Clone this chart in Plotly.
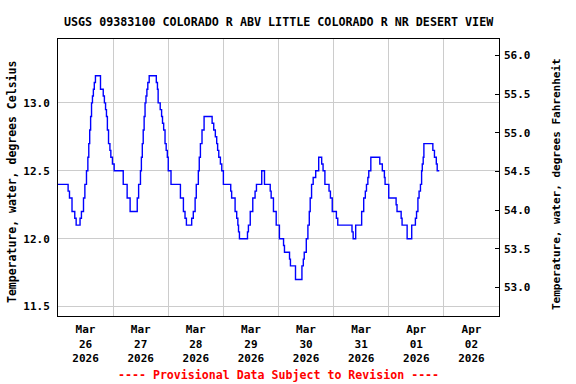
import pandas as pd
import plotly.graph_objects as go

# Change points of the stepped record: hours after 2026-03-26 00:00 and water temperature (deg C)
hours = [
    0.0, 4.4, 5.0, 6.1, 7.3, 7.9, 9.6, 10.2, 11.1, 11.7, 12.4, 13.0, 13.4, 13.8, 14.2, 14.6, 15.0,
    15.4, 15.8, 16.3, 18.5, 19.7, 20.2, 20.7, 21.1, 21.5, 22.0, 22.6, 23.0, 23.7, 24.45, 28.4,
    30.1, 31.4, 34.5, 35.1, 35.9, 36.3, 36.7, 37.1, 37.5, 37.9, 38.3, 38.7, 39.1, 39.7, 42.8,
    43.3, 43.6, 44.5, 45.1, 45.5, 46.0, 46.6, 47.1, 47.6, 48.0, 49.2, 53.3, 54.6, 55.3, 55.9,
    58.2, 58.9, 59.7, 60.2, 61.1, 61.5, 62.0, 62.7, 63.6, 67.1, 67.8, 68.5, 69.1, 69.5, 70.0,
    70.7, 71.3, 72.0, 75.2, 75.6, 77.1, 77.8, 78.3, 78.6, 79.0, 82.5, 82.9, 83.7, 84.8, 85.8,
    86.4, 88.7, 89.9, 92.4, 92.8, 93.8, 95.0, 96.4, 98.2, 98.6, 100.8, 101.2, 103.4, 106.2,
    106.8, 107.2, 108.1, 108.8, 109.4, 109.8, 110.4, 111.1, 112.2, 113.5, 114.8, 115.4, 116.2,
    118.0, 118.6, 119.4, 121.2, 121.8, 128.0, 128.5, 129.6, 132.2, 133.1, 133.8, 134.3, 134.9,
    135.3, 136.2, 140.1, 141.2, 142.1, 142.4, 144.0, 147.2, 147.6, 149.4, 149.8, 152.0, 154.0,
    155.6, 156.1, 156.7, 157.2, 157.8, 158.3, 158.6, 159.0, 159.3, 163.2, 163.9, 164.7, 165.1,
    166.0,
]
temp_c = [
    12.4, 12.35, 12.3, 12.2, 12.15, 12.1, 12.15, 12.2, 12.3, 12.4, 12.5, 12.6, 12.7, 12.8, 12.9, 13.0, 13.05,
    13.1, 13.15, 13.2, 13.1, 13.05, 13.0, 12.95, 12.9, 12.8, 12.7, 12.65, 12.6, 12.55, 12.5, 12.4,
    12.3, 12.2, 12.3, 12.4, 12.5, 12.6, 12.7, 12.8, 12.9, 13.0, 13.05, 13.1, 13.15, 13.2, 13.15,
    13.1, 13.0, 12.95, 12.9, 12.85, 12.8, 12.7, 12.65, 12.6, 12.5, 12.4, 12.3, 12.2, 12.15, 12.1,
    12.15, 12.2, 12.3, 12.4, 12.5, 12.6, 12.7, 12.8, 12.9, 12.85, 12.8, 12.75, 12.7, 12.65, 12.6,
    12.55, 12.5, 12.4, 12.35, 12.3, 12.2, 12.15, 12.1, 12.05, 12.0, 12.05, 12.1, 12.2, 12.3, 12.35,
    12.4, 12.5, 12.4, 12.35, 12.3, 12.2, 12.1, 12.0, 11.95, 11.9, 11.85, 11.8, 11.7, 11.8,
    11.85, 11.9, 12.0, 12.1, 12.2, 12.3, 12.4, 12.45, 12.5, 12.6, 12.55, 12.5, 12.4,
    12.35, 12.3, 12.2, 12.15, 12.1, 12.05, 12.0, 12.1, 12.2, 12.3, 12.35, 12.4, 12.45,
    12.5, 12.6, 12.55, 12.5, 12.45, 12.4, 12.3, 12.25, 12.2, 12.15, 12.1, 12.0, 12.1,
    12.15, 12.2, 12.3, 12.35, 12.4, 12.5, 12.55, 12.6, 12.7, 12.65, 12.6, 12.55, 12.5,
    12.5,
]

day_labels = ["Mar<br>26<br>2026", "Mar<br>27<br>2026", "Mar<br>28<br>2026", "Mar<br>29<br>2026",
              "Mar<br>30<br>2026", "Mar<br>31<br>2026", "Apr<br>01<br>2026", "Apr<br>02<br>2026"]
left_ticks = [11.5, 12.0, 12.5, 13.0]
right_ticks = [53.0, 53.5, 54.0, 54.5, 55.0, 55.5, 56.0]

start = pd.Timestamp("2026-03-26 00:00")
times = [start + pd.Timedelta(hours=h) for h in hours]
temp_f = [c * 1.8 + 32 for c in temp_c]
label_pos = [start + pd.Timedelta(days=i, hours=12) for i in range(len(day_labels))]

FONT = "DejaVu Sans Mono"
W, H = 576, 384
ML, MR, MT, MB = 58, 77, 39, 68
plot_w = W - ML - MR
plot_h = H - MT - MB


def px_x(x):
    return (x - ML) / plot_w


def px_y(y):
    return (H - MB - y) / plot_h


fig = go.Figure()
fig.add_trace(go.Scatter(x=times, y=temp_c, mode="lines", line=dict(color="#0000ff", width=1.4, shape="hv"),
                         showlegend=False, hoverinfo="skip"))
fig.add_trace(go.Scatter(x=times, y=temp_f, mode="lines", line=dict(width=0), opacity=0, yaxis="y2",
                         showlegend=False, hoverinfo="skip"))

fig.update_layout(
    width=W, height=H,
    margin=dict(l=ML, r=MR, t=MT, b=MB, autoexpand=False),
    paper_bgcolor="white", plot_bgcolor="white",
    font=dict(family=FONT, size=11, color="black", weight="bold"),
    xaxis=dict(
        range=[start, start + pd.Timedelta(days=8)], automargin=False,
        tickmode="array", tickvals=label_pos, ticktext=day_labels,
        ticks="outside", ticklen=3, tickcolor="rgba(0,0,0,0)", showgrid=False, zeroline=False,
        showline=True, linecolor="black", linewidth=1, mirror=True,
        minor=dict(tickmode="linear", tick0=start, dtick=86400000, showgrid=True,
                   gridcolor="#cccccc", gridwidth=1, ticks=""),
        tickfont=dict(family=FONT, size=11, weight="bold"),
    ),
    yaxis=dict(
        range=[11.431, 13.47], automargin=False, tickmode="array", tickvals=left_ticks, tickformat=".1f",
        showgrid=True, gridcolor="#cccccc", gridwidth=1, zeroline=False,
        ticks="outside", ticklen=5, tickcolor="rgba(0,0,0,0)",
        showline=True, linecolor="black", linewidth=1, mirror=True,
        tickfont=dict(family=FONT, size=11, weight="bold"),
    ),
    yaxis2=dict(
        range=[52.632, 56.212], automargin=False, overlaying="y", side="right", anchor="x",
        tickmode="array", tickvals=right_ticks, tickformat=".1f",
        showgrid=False, zeroline=False, ticks="inside", ticklen=4, tickcolor="black",
        ticklabelstandoff=4, showline=False,
        tickfont=dict(family=FONT, size=11, weight="bold"),
    ),
    annotations=[
        dict(text="USGS 09383100 COLORADO R ABV LITTLE COLORADO R NR DESERT VIEW",
             x=0.5, xref="paper", xanchor="center", y=px_y(22), yref="paper", yanchor="middle",
             showarrow=False, font=dict(family=FONT, size=11.7, color="black", weight="bold")),
        dict(text="Temperature, water, degrees Celsius", textangle=-90,
             x=px_x(12), xref="paper", xanchor="center", y=px_y(182), yref="paper", yanchor="middle",
             showarrow=False, font=dict(family=FONT, size=11.5, color="black", weight="bold")),
        dict(text="Temperature, water, degrees Fahrenheit", textangle=-90,
             x=px_x(556), xref="paper", xanchor="center", y=px_y(184), yref="paper", yanchor="middle",
             showarrow=False, font=dict(family=FONT, size=11, color="black", weight="bold")),
        dict(text="---- Provisional Data Subject to Revision ----",
             x=0.5, xref="paper", xanchor="center", y=px_y(375), yref="paper", yanchor="middle",
             showarrow=False, font=dict(family=FONT, size=11.6, color="red", weight="bold")),
    ],
)

fig.write_html("out.html", config={"displayModeBar": False},
               post_script="document.body.style.margin='0';document.body.style.overflow='hidden';")
